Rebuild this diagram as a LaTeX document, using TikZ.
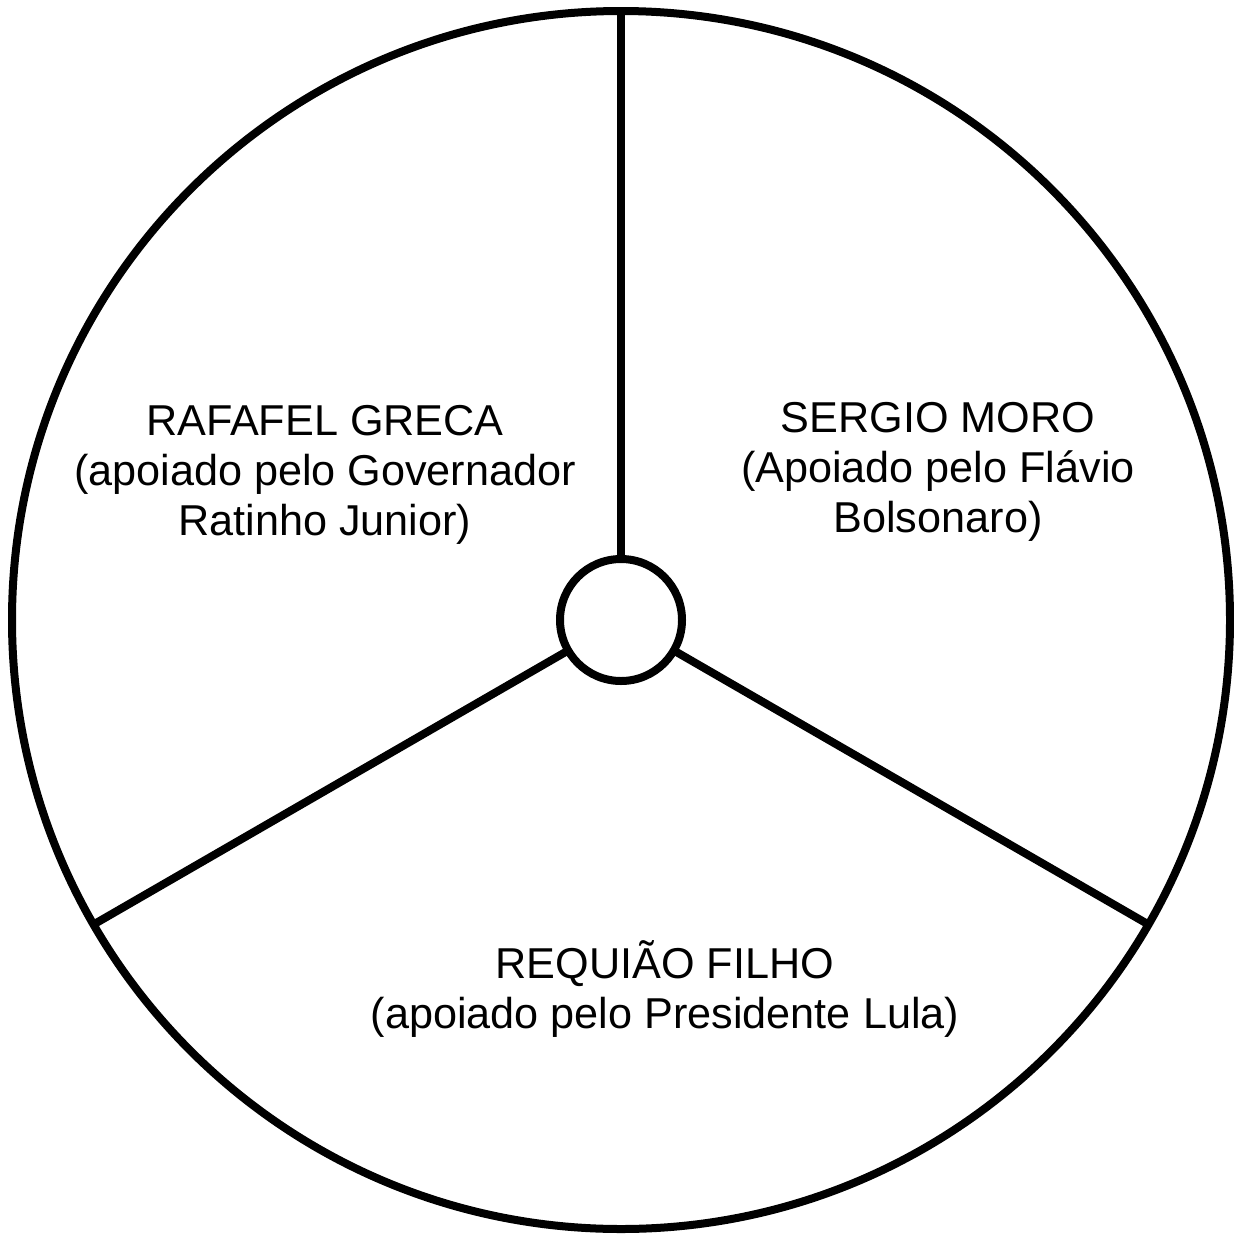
\documentclass[tikz,border=0pt]{standalone}
\usepackage{fontspec}
\setmainfont{Liberation Sans}
\begin{document}
\begin{tikzpicture}[x=1pt,y=-1pt,
  ring/.style={circle,draw=black,line width=8pt,inner sep=0pt,outer sep=0pt,fill=white},
  spoke/.style={draw=black,line width=8pt},
  label/.style={align=center,font=\fontsize{43.2}{50}\selectfont,inner sep=0pt}]
\useasboundingbox[fill=white] (0,0) rectangle (1234,1234);
\node[ring,minimum size=1218pt] (outer) at (621,620) {};
\node[ring,minimum size=122pt] (hub) at (621,620) {};
\draw[spoke] (hub.north) -- (outer.north);
\draw[spoke] (hub.210) -- (outer.210);
\draw[spoke] (hub.330) -- (outer.330);
\node[label] (greca) at (325,475) {RAFAFEL GRECA\\(apoiado pelo Governador\\Ratinho Junior)};
\node[label] (moro) at (938,472) {SERGIO MORO\\(Apoiado pelo Flávio\\Bolsonaro)};
\node[label] (requiao) at (665,989) {REQUIÃO FILHO\\(apoiado pelo Presidente Lula)};
\end{tikzpicture}
\end{document}
